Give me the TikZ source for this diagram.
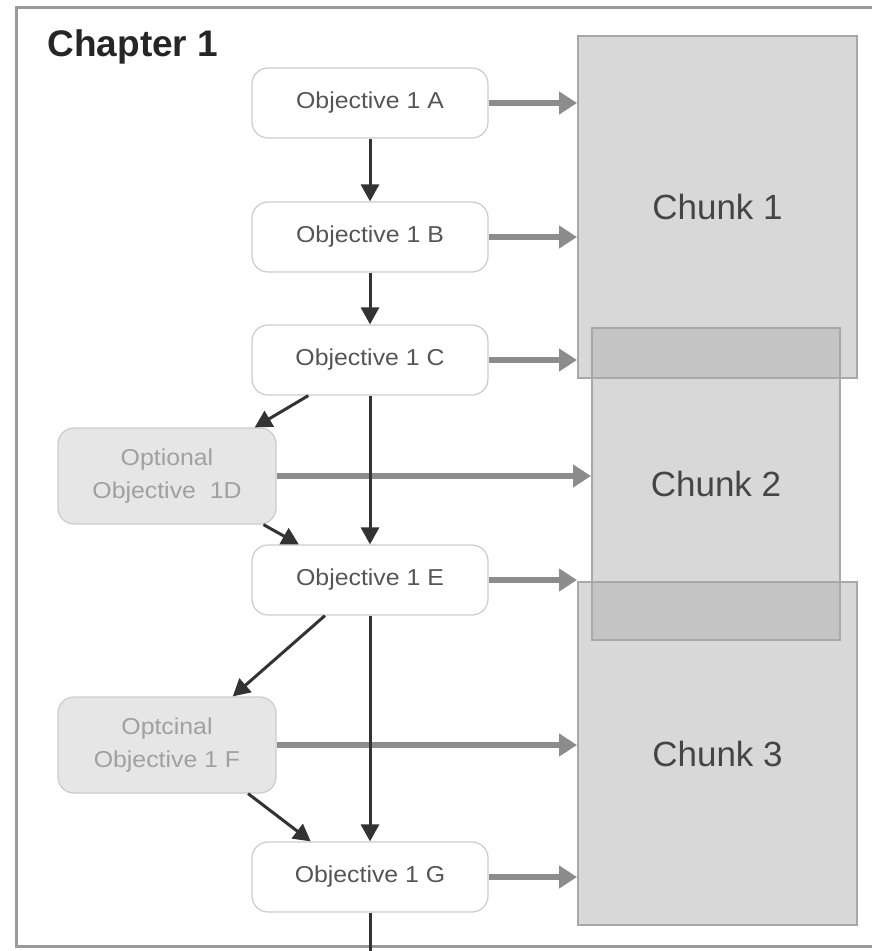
\documentclass[tikz,border=0pt]{standalone}
\usepackage{fontspec}
\setmainfont{Liberation Sans}
\newfontfamily\objfont[FakeStretch=1.08]{Liberation Sans}
\usetikzlibrary{arrows.meta,calc}
\definecolor{frameC}{HTML}{9A9A9A}
\definecolor{objBorder}{HTML}{CCCCCC}
\definecolor{objText}{HTML}{555555}
\definecolor{optFill}{HTML}{E6E6E6}
\definecolor{optText}{HTML}{A0A0A0}
\definecolor{chunkFill}{HTML}{ADADAD}
\definecolor{chunkDraw}{HTML}{A8A8A8}
\definecolor{chunkText}{HTML}{454545}
\definecolor{darkArrow}{HTML}{333333}
\definecolor{grayArrow}{HTML}{8C8C8C}
\tikzset{
  objbox/.style={draw=objBorder, line width=1.2pt, fill=white, rounded corners=16pt,
    minimum width=236pt, minimum height=70pt, text=objText, font=\objfont\fontsize{23}{26}\selectfont},
  optbox/.style={draw=objBorder, line width=1.2pt, fill=optFill, rounded corners=16pt,
    minimum width=218pt, minimum height=96pt, text=optText, align=center,
    font=\objfont\fontsize{23}{33}\selectfont},
  chunkbox/.style={draw=chunkDraw, line width=2pt, fill=chunkFill, fill opacity=0.47,
    text opacity=1, text=chunkText, font=\fontsize{35}{40}\selectfont},
  darr/.style={draw=darkArrow, line width=3pt, -{Triangle[length=17pt,width=18pt]}},
  garr/.style={draw=grayArrow, line width=6.5pt, -{Triangle[length=18pt,width=22pt]}},
}
\begin{document}
\begin{tikzpicture}[x=1pt,y=-1pt]
\useasboundingbox (0,0) rectangle (871,951);
% frame
\draw[frameC, line width=3pt] (873,7) -- (16,7) -- (16,946) -- (873,946);
\node[anchor=west, font=\bfseries\fontsize{37}{40}\selectfont, text=black!85] (title) at (44,47) {Chapter 1};
% chunks
\node[chunkbox, minimum width=279pt, minimum height=342pt] (K1) at (717.5,207) {Chunk 1};
\node[chunkbox, minimum width=248pt, minimum height=312pt] (K2) at (716,484) {Chunk 2};
\node[chunkbox, minimum width=279pt, minimum height=343pt] (K3) at (717.5,753.5) {Chunk 3};
% objectives
\node[objbox] (A) at (370,103) {Objective 1 A};
\node[objbox] (B) at (370,237) {Objective 1 B};
\node[objbox] (C) at (370,360) {Objective 1 C};
\node[optbox] (D) at (167,476) {Optional\\Objective\ \ 1D};
\node[objbox] (E) at (370,580) {Objective 1 E};
\node[optbox] (F) at (167,745) {Optcinal\\Objective 1 F};
\node[objbox] (G) at (370,877) {Objective 1 G};
\coordinate (bot) at (370,951);
% gray horizontal arrows
\draw[garr] (A.east) -- (A.east -| K1.west);
\draw[garr] (B.east) -- (B.east -| K1.west);
\draw[garr] (C.east) -- (C.east -| K1.west);
\draw[garr] (D.east) -- (D.east -| K2.west);
\draw[garr] (E.east) -- (E.east -| K3.west);
\draw[garr] (F.east) -- (F.east -| K3.west);
\draw[garr] (G.east) -- (G.east -| K3.west);
% dark arrows
\draw[darr] (A.south) -- (B.north);
\draw[darr] (B.south) -- (C.north);
\draw[darr] (C.south) -- (E.north);
\draw[darr] (E.south) -- (G.north);
\draw[draw=darkArrow, line width=3pt] (G.south) -- (bot);
\draw[darr] ($(C.south west)!0.24!(C.south east)$) -- ($(D.north west)!0.9!(D.north east)$);
\draw[darr] ($(D.south west)!0.94!(D.south east)$) -- ($(E.north west)!0.2!(E.north east)$);
\draw[darr] ($(E.south west)!0.31!(E.south east)$) -- ($(F.north west)!0.8!(F.north east)$);
\draw[darr] ($(F.south west)!0.87!(F.south east)$) -- ($(G.north west)!0.25!(G.north east)$);
\end{tikzpicture}
\end{document}
